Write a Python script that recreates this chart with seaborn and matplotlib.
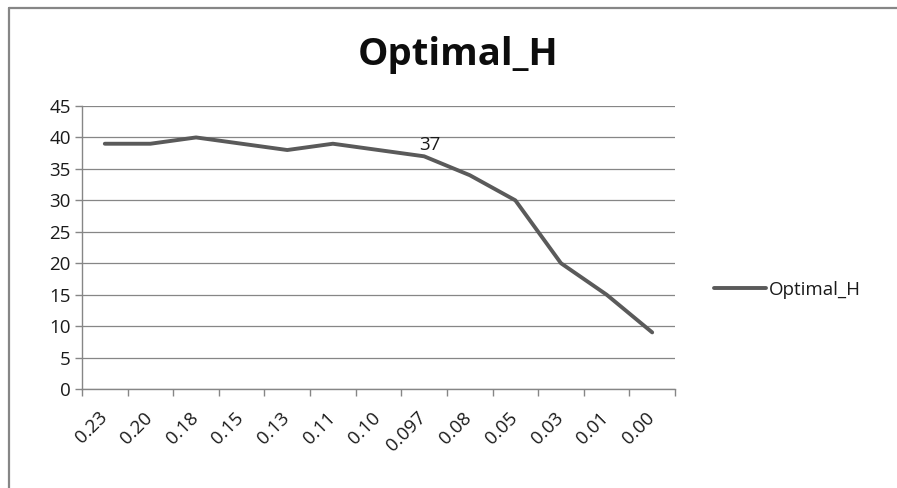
import matplotlib
matplotlib.use("Agg")
import matplotlib.pyplot as plt
import matplotlib.transforms as mtransforms
import seaborn as sns
import pandas as pd
import numpy as np
from matplotlib.lines import Line2D

categories = ["0.23", "0.20", "0.18", "0.15", "0.13", "0.11", "0.10", "0.097",
              "0.08", "0.05", "0.03", "0.01", "0.00"]
optimal_h = [39, 39, 40, 39, 38, 39, 38, 37, 34, 30, 20, 15, 9]
yticks = [0, 5, 10, 15, 20, 25, 30, 35, 40, 45]

sns.set_style("white")
plt.rcParams['font.family'] = ['Open Sans', 'DejaVu Sans']

df = pd.DataFrame({"pos": np.arange(len(categories)), "Optimal_H": optimal_h})

W, H = 897, 488
fig = plt.figure(figsize=(W / 100, H / 100), dpi=100)
ax = fig.add_axes([82 / W, 1 - 389 / H, (675 - 82) / W, (389 - 106) / H])

line_color = "#5a5a5a"
grid_color = "#868686"
fs = 13.5
sns.lineplot(data=df, x="pos", y="Optimal_H", ax=ax, color=line_color,
             linewidth=2.8, label="Optimal_H", solid_capstyle="round")

ax.set_xlim(-0.5, len(categories) - 0.5)
ax.set_ylim(0, 45)
ax.set_yticks(yticks)
ax.set_yticklabels([str(v) for v in yticks], fontsize=fs, color="#1a1a1a")
ax.set_xticks(np.arange(len(categories)))
ax.set_xticklabels(categories, rotation=45, fontsize=fs, ha="right",
                   rotation_mode="anchor", color="#1a1a1a")
ax.set_xticks(np.arange(-0.5, len(categories)), minor=True)
ax.tick_params(axis="x", which="major", bottom=False, length=0, pad=14)
ax.tick_params(axis="x", which="minor", bottom=True, length=5, color=grid_color,
               width=1, direction="out")
ax.tick_params(axis="y", which="major", left=True, length=5, color=grid_color,
               width=1, direction="out", pad=3)
offset = mtransforms.ScaledTranslation(-7 / 100, 0, fig.dpi_scale_trans)
for t in ax.get_xticklabels():
    t.set_transform(t.get_transform() + offset)
ax.set_xlabel("")
ax.set_ylabel("")
ax.grid(axis="y", color=grid_color, linewidth=0.9)
ax.set_axisbelow(True)
for s in ["top", "right"]:
    ax.spines[s].set_visible(False)
for s in ["left", "bottom"]:
    ax.spines[s].set_color(grid_color)
    ax.spines[s].set_linewidth(1)

ax.annotate(str(optimal_h[7]), xy=(7, optimal_h[7]), xytext=(4, 2),
            textcoords="offset points", ha="center", va="bottom", fontsize=fs,
            color="#1a1a1a")

leg = ax.legend(loc="center left", bbox_to_anchor=(1.038, 0.35), frameon=False,
                fontsize=fs, handlelength=2.75, handletextpad=0.15)
for t in leg.get_texts():
    t.set_color("#1a1a1a")

fig.text(458 / W, 1 - 55 / H, "Optimal_H", ha="center", va="center",
         fontsize=27.5, fontweight="bold", color="#0d0d0d")

x0, y0 = 9 / W, 1 - 8 / H
fig.lines.append(Line2D([x0, x0], [0, y0], transform=fig.transFigure,
                        color="#868686", linewidth=1.6))
fig.lines.append(Line2D([x0, 1], [y0, y0], transform=fig.transFigure,
                        color="#868686", linewidth=1.6))

fig.savefig("out.png", dpi=100)
